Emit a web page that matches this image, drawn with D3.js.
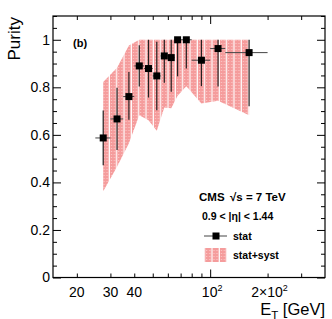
<!DOCTYPE html>
<html>
<head>
<meta charset="utf-8">
<script src="https://cdn.jsdelivr.net/npm/d3@7"></script>
<style>
  body { margin: 0; background: #fff; }
  svg { display: block; font-family: "Liberation Sans", Arial, sans-serif; }
</style>
</head>
<body>
<div id="vis"></div>
<script>
// data: E_T bins (GeV) and purity
const ET_LO = [25, 30, 35, 40, 45, 50, 55, 60, 65, 70, 80, 100, 120];
const ET_HI = [30, 35, 40, 45, 50, 55, 60, 65, 70, 80, 100, 120, 200];
const ET_CENTER = [27.5, 32.5, 37.5, 42.5, 47.5, 52.5, 57.5, 62.5, 67.5, 75, 90, 110, 160];
const PURITY = [0.587, 0.667, 0.761, 0.89, 0.879, 0.848, 0.932, 0.925, 1.0, 1.0, 0.914, 0.963, 0.946];
const STAT_LO = [0.115, 0.131, 0.097, 0.087, 0.122, 0.144, 0.113, 0.144, 0.154, 0.121, 0.109, 0.16, 0.226];
const STAT_HI = [0.115, 0.131, 0.103, 0.087, 0.121, 0.144, 0.068, 0.075, 0, 0, 0.086, 0.037, 0.054];
// stat+syst band edges
const BAND_LO = [0.363, 0.466, 0.565, 0.683, 0.662, 0.617, 0.715, 0.712, 0.765, 0.805, 0.732, 0.743, 0.682];
const BAND_HI = [0.822, 0.882, 0.976, 1, 1, 1, 1, 1, 1, 1, 1, 1, 1];

// axis ticks
const Y_MAJOR = [0, 0.2, 0.4, 0.6, 0.8, 1.0];
const X_TICKS = [20, 30, 40, 50, 60, 70, 80, 90, 100, 200, 300];
const X_LABELS = [[20, "20", ""], [30, "30", ""], [40, "40", ""], [100, "10", "2"], [200, "2\u00d710", "2"]];

const FRAME_WIDTH = 332;
const FRAME_HEIGHT = 319;
const MARGINS = {left: 53, right: 7, top: 16, bottom: 41.5};

const svg = d3.select("#vis")
    .append("svg")
        .attr("width", FRAME_WIDTH)
        .attr("height", FRAME_HEIGHT);

const X = d3.scaleLog()
    .domain([15, 400])
    .range([MARGINS.left, FRAME_WIDTH - MARGINS.right]);

const Y = d3.scaleLinear()
    .domain([0, 1.1])
    .range([FRAME_HEIGHT - MARGINS.bottom, MARGINS.top]);

// pattern for the stat+syst band
const defs = svg.append("defs");
const pat = defs.append("pattern")
    .attr("id", "hatch")
    .attr("patternUnits", "userSpaceOnUse")
    .attr("width", 7.33)
    .attr("height", 3);
pat.append("rect").attr("width", 7.33).attr("height", 3).attr("fill", "#f59c9c");
pat.append("rect").attr("x", 1).attr("y", 1).attr("width", 1).attr("height", 1).attr("fill", "#fcd0d0");
pat.append("rect").attr("x", 4).attr("y", 1).attr("width", 1).attr("height", 1).attr("fill", "#fcd0d0");
pat.append("rect").attr("x", 6.1).attr("y", 0).attr("width", 1.2).attr("height", 3).attr("fill", "#ffffff");

const idx = d3.range(PURITY.length);

// band
const area = d3.area()
    .x(i => X(ET_CENTER[i]))
    .y0(i => Y(BAND_LO[i]))
    .y1(i => Y(BAND_HI[i]));

svg.append("path")
    .datum(idx)
    .attr("d", area)
    .attr("fill", "url(#hatch)");

// axes with inside ticks
const yMinor = d3.range(0, 1.1001, 0.05).filter(v => Math.abs(v * 5 - Math.round(v * 5)) > 1e-6);

function drawY(gen, xpos, labels) {
    const g = svg.append("g")
        .attr("transform", "translate(" + xpos + ",0)")
        .call(gen(Y).tickValues(Y_MAJOR).tickSize(-8).tickSizeOuter(0).tickPadding(3)
            .tickFormat(labels ? d3.format("~g") : ""));
    g.select(".domain").remove();
    g.selectAll("text").attr("font-size", 14).attr("font-family", "Liberation Sans, Arial, sans-serif");
    const g2 = svg.append("g")
        .attr("transform", "translate(" + xpos + ",0)")
        .call(gen(Y).tickValues(yMinor).tickSize(-4).tickSizeOuter(0).tickFormat(""));
    g2.select(".domain").remove();
}
drawY(d3.axisLeft, MARGINS.left, true);
drawY(d3.axisRight, FRAME_WIDTH - MARGINS.right, false);

function drawX(gen, ypos, dir) {
    const g = svg.append("g")
        .attr("transform", "translate(0," + ypos + ")")
        .call(gen(X).tickValues(X_TICKS).tickSizeOuter(0).tickSize(-4).tickFormat(""));
    g.select(".domain").remove();
    g.selectAll(".tick line").filter(d => d === 100).attr("y2", dir * 8);
}
drawX(d3.axisBottom, FRAME_HEIGHT - MARGINS.bottom, -1);
drawX(d3.axisTop, MARGINS.top, 1);

// x labels with superscripts
const xl = svg.append("g").attr("font-size", 14);
X_LABELS.forEach(([v, base, sup]) => {
    const t = xl.append("text")
        .attr("x", X(v) + (sup ? 2 : 0))
        .attr("y", 297)
        .attr("text-anchor", "middle");
    t.append("tspan").text(base);
    if (sup) {
        t.append("tspan").attr("dy", -6).attr("font-size", 9).text(sup);
    }
});

// frame
svg.append("rect")
    .attr("x", MARGINS.left)
    .attr("y", MARGINS.top)
    .attr("width", FRAME_WIDTH - MARGINS.left - MARGINS.right)
    .attr("height", FRAME_HEIGHT - MARGINS.top - MARGINS.bottom)
    .attr("fill", "none")
    .attr("stroke", "#000")
    .attr("stroke-width", 1.2);

// horizontal (bin) error bars
svg.selectAll(".xerr")
    .data(idx)
    .enter()
    .append("line")
        .attr("x1", i => X(ET_LO[i]))
        .attr("x2", i => X(ET_HI[i]))
        .attr("y1", i => Y(PURITY[i]))
        .attr("y2", i => Y(PURITY[i]))
        .attr("stroke", "#444")
        .attr("stroke-width", 1);

// vertical stat error bars
svg.selectAll(".yerr")
    .data(idx)
    .enter()
    .append("line")
        .attr("x1", i => X(ET_CENTER[i]))
        .attr("x2", i => X(ET_CENTER[i]))
        .attr("y1", i => Y(PURITY[i] - STAT_LO[i]))
        .attr("y2", i => Y(PURITY[i] + STAT_HI[i]))
        .attr("stroke", "#222")
        .attr("stroke-width", 1.2);

// markers
svg.selectAll(".pt")
    .data(idx)
    .enter()
    .append("rect")
        .attr("x", i => X(ET_CENTER[i]) - 3.5)
        .attr("y", i => Y(PURITY[i]) - 3.5)
        .attr("width", 7)
        .attr("height", 7)
        .attr("fill", "#000");

// axis titles
svg.append("text")
    .attr("transform", "translate(20,17) rotate(-90)")
    .attr("text-anchor", "end")
    .attr("font-size", 17)
    .text("Purity");

const xt = svg.append("text")
    .attr("x", FRAME_WIDTH - MARGINS.right)
    .attr("y", 315)
    .attr("text-anchor", "end")
    .attr("font-size", 16.5);
xt.append("tspan").text("E");
xt.append("tspan").attr("font-size", 11.5).attr("dy", 3.5).text("T");
xt.append("tspan").attr("dy", -3.5).text(" [GeV]");

// panel label
svg.append("text")
    .attr("x", 73)
    .attr("y", 47)
    .attr("font-size", 11)
    .attr("font-weight", "bold")
    .text("(b)");

// legend
const lg = svg.append("g").attr("font-weight", "bold");
lg.append("text").attr("x", 199).attr("y", 201).attr("font-size", 11.5).text("CMS");
lg.append("text").attr("x", 230).attr("y", 201).attr("font-size", 11.5).text("\u221As = 7 TeV");

lg.append("text").attr("x", 202).attr("y", 220).attr("font-size", 10.5)
    .text("0.9 < |\u03b7| < 1.44");

lg.append("line")
    .attr("x1", 204).attr("x2", 227).attr("y1", 236).attr("y2", 236)
    .attr("stroke", "#444").attr("stroke-width", 1);
lg.append("rect")
    .attr("x", 212.5).attr("y", 232.5).attr("width", 7).attr("height", 7).attr("fill", "#000");
lg.append("text").attr("x", 233).attr("y", 240).attr("font-size", 10.5).text("stat");

lg.append("rect")
    .attr("x", 204).attr("y", 248).attr("width", 23).attr("height", 14)
    .attr("fill", "url(#hatch)");
lg.append("text").attr("x", 233).attr("y", 259).attr("font-size", 10.5).text("stat+syst");
</script>
</body>
</html>
